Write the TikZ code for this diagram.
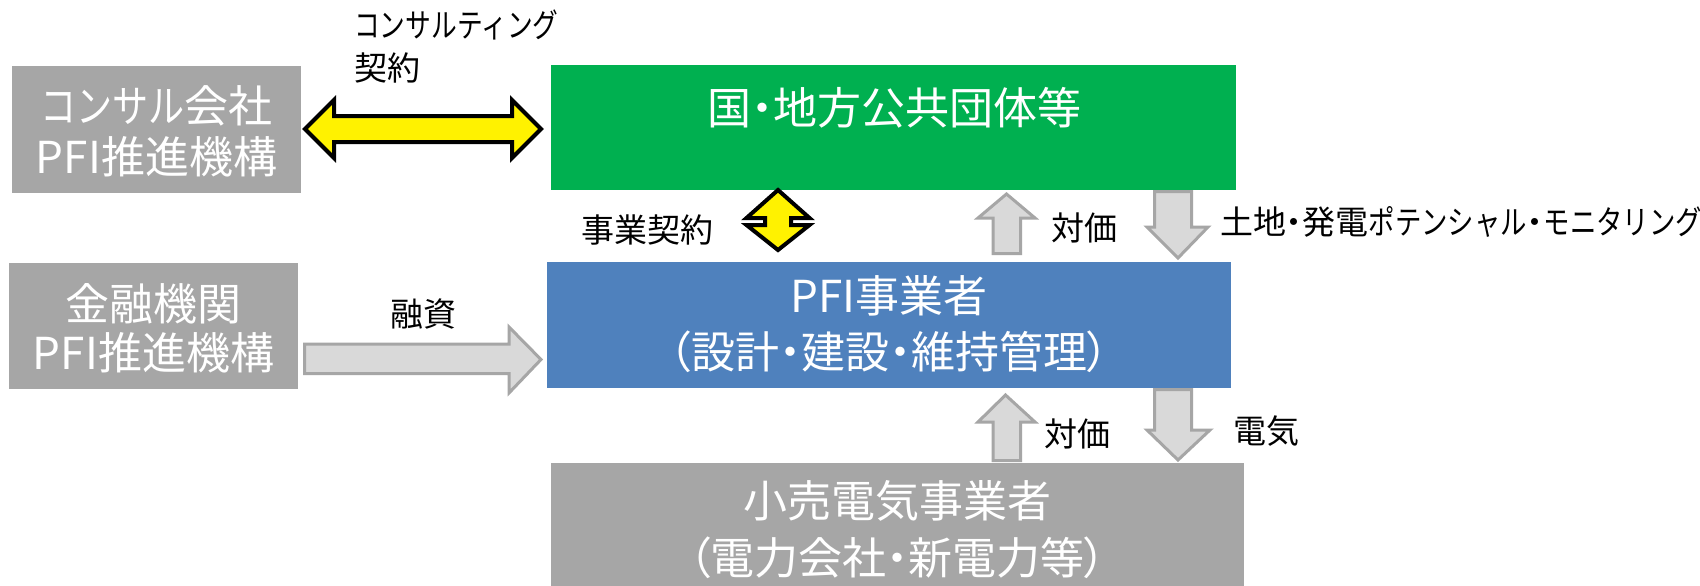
\documentclass[tikz,border=0pt]{standalone}
\usepackage{graphicx}
\usepackage{fontspec}
\setmainfont{Noto Sans CJK JP}
\newfontfamily\paltfont{Noto Sans CJK JP}[RawFeature=+palt]
\definecolor{boxgreen}{HTML}{00B050}
\definecolor{boxblue}{HTML}{4F81BD}
\definecolor{boxgray}{HTML}{A6A6A6}
\definecolor{gfill}{HTML}{D9D9D9}
\definecolor{gline}{HTML}{A6A6A6}
\newcommand{\nkana}[2][0.76]{\scalebox{#1}[1]{#2}}
\newcommand{\ndot}{{\paltfont ・}}
\begin{document}
\begin{tikzpicture}[x=1pt,y=-1pt,
  box/.style={inner sep=0pt, outer sep=0pt, draw=none},
  wt/.style={text=white, align=center, inner sep=0pt},
  lbl/.style={text=black, font=\fontsize{33}{43}\selectfont, inner sep=0pt, align=left},
  yarrow/.style={fill=yellow, draw=black, line width=4pt, line join=miter},
  garrow/.style={fill=gfill, draw=gline, line width=3pt, line join=miter}]
\useasboundingbox[fill=white] (0,0) rectangle (1700,586);

% boxes
\node[box, fill=boxgray, minimum width=289pt, minimum height=127pt] (consul) at (156.5,129.5) {};
\node[box, fill=boxgray, minimum width=289pt, minimum height=126pt] (bank) at (153.5,326) {};
\node[box, fill=boxgreen, minimum width=685pt, minimum height=125pt] (gov) at (893.5,127.5) {};
\node[box, fill=boxblue, minimum width=684pt, minimum height=126pt] (pfi) at (889,325) {};
\node[box, fill=boxgray, minimum width=693pt, minimum height=123pt] (retail) at (897.5,524.5) {};

% box texts
\node[wt, font=\fontsize{44}{51}\selectfont] (consultxt) at (156.5,131.5) {\nkana[0.82]{コンサル}会社\\PFI推進機構};
\node[wt, font=\fontsize{44}{49}\selectfont] (banktxt) at (153.5,328) {金融機関\\PFI推進機構};
\node[wt, font=\paltfont\fontsize{44}{52}\selectfont] (govtxt) at (894,108) {国・地方公共団体等};
\node[wt, font=\paltfont\fontsize{44}{56}\selectfont] (pfitxt) at (889,324) {PFI事業者\\（設計・建設・維持管理）};
\node[wt, font=\paltfont\fontsize{44}{57}\selectfont] (retailtxt) at (897.5,529.5) {小売電気事業者\\（電力会社・新電力等）};

% yellow double arrows
\draw[yarrow] (305,129) -- (334,100) -- (334,116) -- (512,116) -- (512,100) -- (541,129)
  -- (512,158) -- (512,142) -- (334,142) -- (334,158) -- cycle;
\draw[yarrow] (778,190) -- (809.5,218) -- (791,218) -- (791,225) -- (809.5,225) -- (778,250)
  -- (746.5,225) -- (765,225) -- (765,218) -- (746.5,218) -- cycle;

% gray block arrows
\draw[garrow] (1006.5,194) -- (1035,218) -- (1020.5,218) -- (1020.5,253.5) -- (993,253.5) -- (993,218) -- (978,218) -- cycle;
\draw[garrow] (1154.5,191.5) -- (1191.5,191.5) -- (1191.5,227) -- (1208,227) -- (1178,258) -- (1147,227) -- (1154.5,227) -- cycle;
\draw[garrow] (1005.5,395) -- (1035,422) -- (1020.5,422) -- (1020.5,460.5) -- (993,460.5) -- (993,422) -- (978,422) -- cycle;
\draw[garrow] (1154.5,389.5) -- (1191.5,389.5) -- (1191.5,430) -- (1210,430) -- (1178,460) -- (1147,430) -- (1154.5,430) -- cycle;
\draw[garrow] (304.5,344) -- (509,344) -- (509,327) -- (541,359.5) -- (509,393) -- (509,373.5) -- (304.5,373.5) -- cycle;

% labels
\node[lbl, anchor=west] (consultlbl) at (354,46.5) {\nkana[0.78]{コンサルティング}\\契約};
\node[lbl] (bizlbl) at (647,230) {事業契約};
\node[lbl] (price1) at (1084,228) {対価};
\node[lbl, anchor=west] (landlbl) at (1220,222) {土地\ndot 発電\nkana[0.8]{ポテンシャル}\ndot\nkana[0.8]{モニタリング}};
\node[lbl] (finlbl) at (423,314) {融資};
\node[lbl] (price2) at (1077,434) {対価};
\node[lbl] (eleclbl) at (1266,431) {電気};
\end{tikzpicture}
\end{document}
